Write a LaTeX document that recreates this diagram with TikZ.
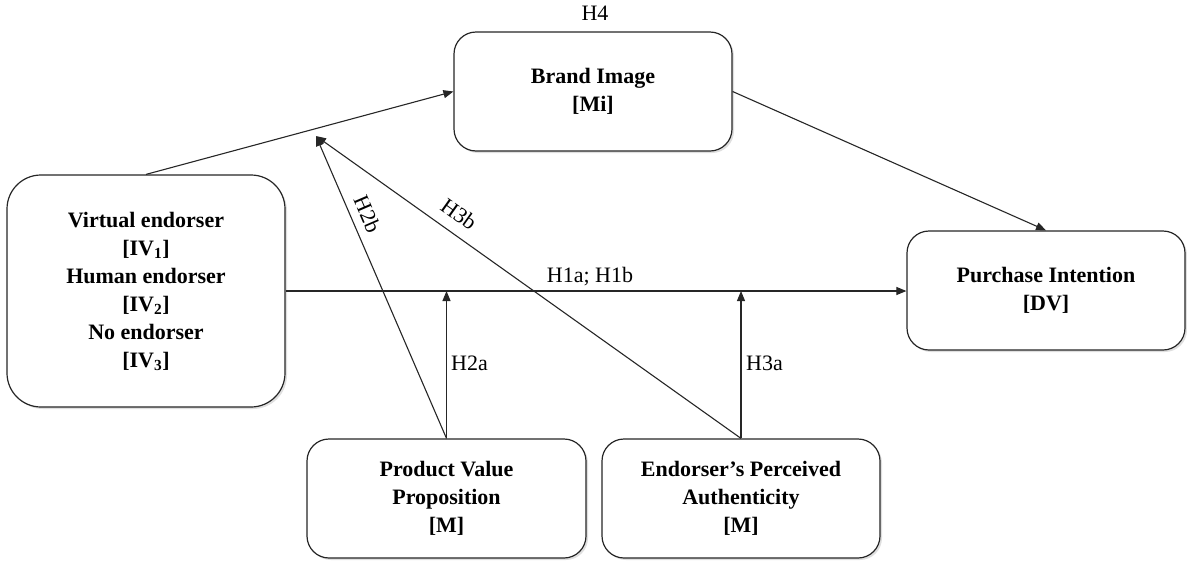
\documentclass[tikz,border=0pt]{standalone}
\usepackage{fontspec}
\setmainfont{Liberation Serif}
\usetikzlibrary{arrows.meta,shadows,calc}
\begin{document}
\begin{tikzpicture}[x=1pt,y=-1pt,
  box/.style={draw=black!85, line width=1.2pt, fill=white, rounded corners=22pt,
    minimum width=278pt, minimum height=119pt, align=center,
    font=\fontsize{22}{28}\selectfont\bfseries,
    drop shadow={shadow xshift=2pt, shadow yshift=-2pt, opacity=0.25}},
  conn/.style={draw=black!85, line width=1.1pt, -{Triangle[length=10pt,width=8pt]}},
  lab/.style={font=\fontsize{22}{27}\selectfont, inner sep=0pt}]
\useasboundingbox (0,0) rectangle (1187,563);
\node[box, minimum height=232pt, rounded corners=34pt] (iv) at (146,291)
  {Virtual endorser\\{}[IV\textsubscript{1}]\\Human endorser\\{}[IV\textsubscript{2}]\\No endorser\\{}[IV\textsubscript{3}]};
\node[box] (bi) at (593,91.5) {Brand Image\\{}[Mi]};
\node[box] (pi) at (1046,290.5) {Purchase Intention\\{}[DV]};
\node[box, minimum width=279pt] (pv) at (446.5,498.5) {Product Value\\Proposition\\{}[M]};
\node[box] (ea) at (741,498.5) {Endorser’s Perceived\\Authenticity\\{}[M]};
\coordinate (apex) at (316,136);
\coordinate (j2) at (pv.north |- iv.east);
\coordinate (j3) at (ea.north |- iv.east);
\node[lab] (h4) at (595,13) {H4};
\draw[conn] (iv.north) -- (bi.west);
\draw[conn] (bi.east) -- (pi.north);
\draw[conn] (iv.east) -- (iv.east -| pi.west);
\node[lab] (h1) at (590,277) {H1a; H1b};
\draw[conn] (pv.north) -- (j2);
\draw[conn] (ea.north) -- (j3);
\node[lab, anchor=west] (h2a) at (451,363) {H2a};
\node[lab, anchor=west] (h3a) at (746,363) {H3a};
\draw[conn] (pv.north) -- node[lab, sloped, pos=0.72, above=8pt] (h2b) {H2b} (apex);
\draw[conn] (ea.north) -- node[lab, sloped, pos=0.69, above=11pt] (h3b) {H3b} (apex);
\end{tikzpicture}
\end{document}
